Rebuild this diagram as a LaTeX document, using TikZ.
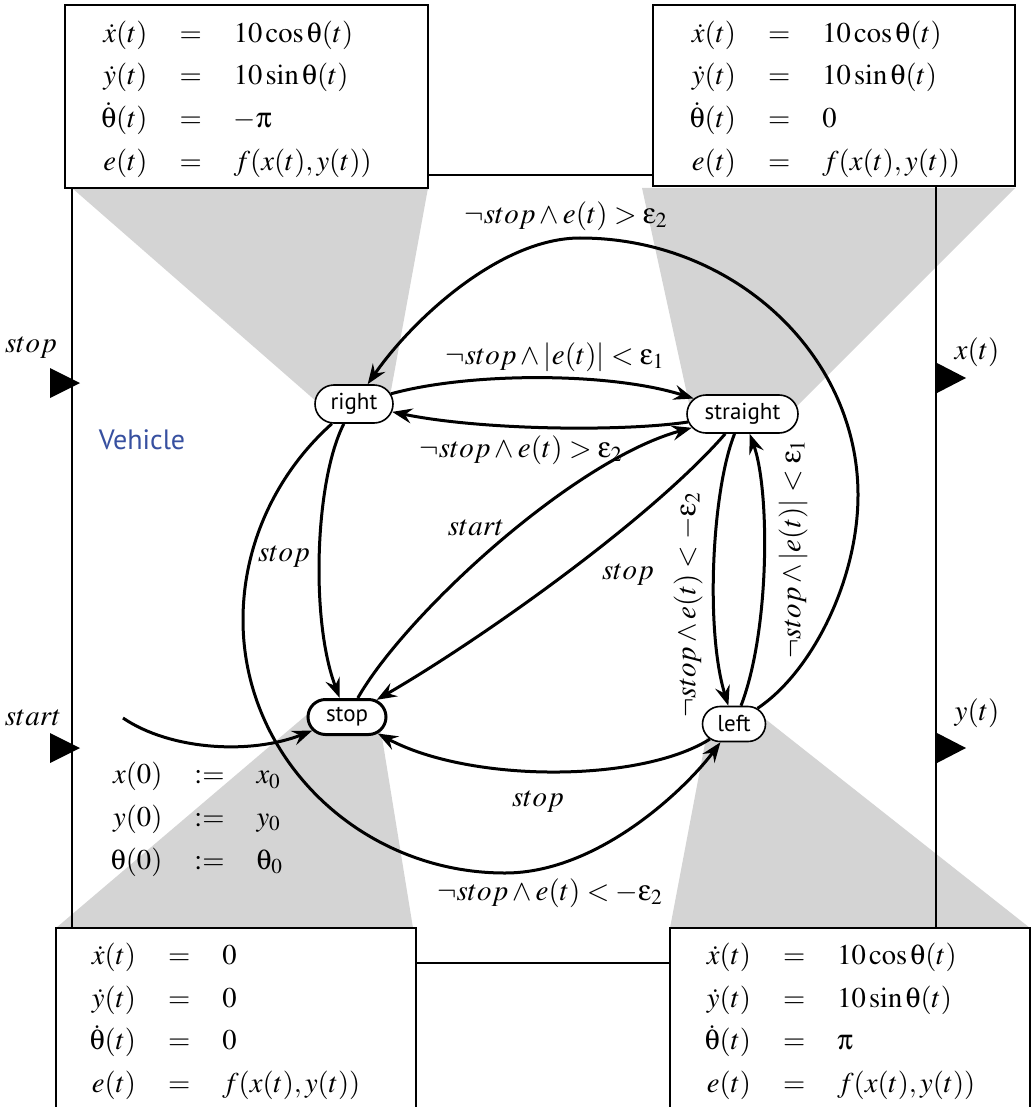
\documentclass[tikz,border=0pt]{standalone}
\usepackage{mathptmx}
\usepackage[no-math]{fontspec}
\newfontfamily\nodefont{PT Sans}
\DeclareSymbolFont{upgrk}{U}{psy}{m}{n}
\DeclareMathSymbol{\uth}{\mathord}{upgrk}{`q}
\DeclareMathSymbol{\upi}{\mathord}{upgrk}{`p}
\DeclareMathSymbol{\ueps}{\mathord}{upgrk}{`e}
\usetikzlibrary{arrows.meta,shapes.misc}
\definecolor{vblue}{RGB}{55,80,160}
\definecolor{calloutgray}{RGB}{212,212,212}
\newcommand\eqarr[1]{$\renewcommand\arraystretch{1.24}\begin{array}{@{}r@{\hspace{16pt}}c@{\hspace{16pt}}l@{}}#1\end{array}$}
\begin{document}
\begin{tikzpicture}[x=0.5pt,y=-0.5pt,
  state/.style={draw, rounded rectangle, line width=0.8pt, fill=white, inner sep=0pt,
    font=\nodefont\fontsize{11.5}{13}\selectfont},
  edge/.style={line width=1.5pt, -{Stealth[length=10pt,width=7.5pt,inset=3.5pt]}},
  lbl/.style={inner sep=0pt, font=\fontsize{14.5}{17.4}\selectfont},
  eqbox/.style={draw, line width=1pt, fill=white, inner sep=0pt},
  eqtext/.style={inner sep=0pt, font=\fontsize{14.3}{17.2}\selectfont},
  callout/.style={fill=calloutgray}]
\useasboundingbox (0,0) rectangle (1036,1107);
% shaded callouts
\path[callout] (72,188) -- (428,188) -- (390,396) -- (317,402) -- cycle;
\path[callout] (642,188) -- (1015,188) -- (795,408) -- (690,408) -- cycle;
\path[callout] (56,928) -- (413,928) -- (380,725) -- (310,712) -- cycle;
\path[callout] (670,928) -- (1030,928) -- (764,718) -- (706,738) -- cycle;
% block outline
\draw[line width=0.8pt] (72,175) rectangle (936,963);
% ports
\fill (50,368) -- (80,383) -- (50,398) -- cycle;
\fill (50,733) -- (80,748) -- (50,763) -- cycle;
\fill (937,363) -- (966,378) -- (937,393) -- cycle;
\fill (937,733) -- (966,748) -- (937,763) -- cycle;
\node[lbl] (pstop) at (31,348) {$stop$};
\node[lbl] (pstart) at (33,718) {$start$};
\node[lbl] (px) at (977,352) {$x(t)$};
\node[lbl] (py) at (977,713) {$y(t)$};
% equation boxes
\node[eqbox, minimum width=181.5pt, minimum height=91.5pt] (tlbox) at (246.5,96.5) {};
\node[eqbox, minimum width=181pt, minimum height=90.5pt] (trbox) at (834,95.5) {};
\node[eqbox, minimum width=180pt, minimum height=92pt] (blbox) at (236,1020) {};
\node[eqbox, minimum width=180pt, minimum height=92pt] (brbox) at (850,1020) {};
\node[eqtext] (tleq) at (236.5,97.5) {\eqarr{\dot x(t) & = & 10\cos\uth(t)\\ \dot y(t) & = & 10\sin\uth(t)\\ \dot\uth(t) & = & -\upi\\ e(t) & = & f(x(t),y(t))}};
\node[eqtext] (treq) at (825,97.5) {\eqarr{\dot x(t) & = & 10\cos\uth(t)\\ \dot y(t) & = & 10\sin\uth(t)\\ \dot\uth(t) & = & 0\\ e(t) & = & f(x(t),y(t))}};
\node[eqtext] (bleq) at (225,1020) {\eqarr{\dot x(t) & = & 0\\ \dot y(t) & = & 0\\ \dot\uth(t) & = & 0\\ e(t) & = & f(x(t),y(t))}};
\node[eqtext] (breq) at (840,1020) {\eqarr{\dot x(t) & = & 10\cos\uth(t)\\ \dot y(t) & = & 10\sin\uth(t)\\ \dot\uth(t) & = & \upi\\ e(t) & = & f(x(t),y(t))}};
\node[eqtext] (init) at (197,818) {\eqarr{x(0) & := & x_0\\ y(0) & := & y_0\\ \uth(0) & := & \uth_0}};
\node[font=\nodefont\fontsize{14}{16}\selectfont, text=vblue, inner sep=0pt] (veh) at (142,440) {Vehicle};
% states
\node[state, minimum width=39pt, minimum height=19pt] (right) at (354,404) {right};
\node[state, minimum width=55.5pt, minimum height=19pt] (straight) at (742.5,414) {straight};
\node[state, line width=1.5pt, minimum width=39pt, minimum height=17.5pt] (stop) at (347,717) {stop};
\node[state, minimum width=31.5pt, minimum height=17.5pt] (left) at (734,724) {left};
\coordinate (initstart) at (123,718);
% transitions
\draw[edge] (right) .. controls (470,372) and (610,372) .. (straight);
\draw[edge] (straight) .. controls (620,432) and (480,430) .. (right);
\draw[edge] (left) .. controls (812,672) and (858,580) .. (858,495) .. controls (858,354) and (733,238) .. (580,238) .. controls (500,238) and (412,320) .. (right);
\draw[edge] (right) .. controls (315,480) and (310,620) .. (stop);
\draw[edge] (right) .. controls (280,470) and (243,540) .. (243,620) .. controls (243,759) and (361,873) .. (505,873) .. controls (600,873) and (688,786) .. (left);
\draw[edge] (stop) .. controls (405,615) and (573,460) .. (straight);
\draw[edge] (straight) .. controls (650,520) and (480,640) .. (stop);
\draw[edge] (straight) .. controls (712,490) and (705,630) .. (left);
\draw[edge] (left) .. controls (770,630) and (770,490) .. (straight);
\draw[edge] (left) .. controls (640,783) and (470,783) .. (stop);
\draw[edge] (initstart) .. controls (170,750) and (250,755) .. (stop);
% labels
\node[lbl] (l1) at (555,357) {$\neg stop\wedge|e(t)|<\ueps_1$};
\node[lbl] (l2) at (521,450) {$\neg stop\wedge e(t)>\ueps_2$};
\node[lbl] (l3) at (566,216) {$\neg stop\wedge e(t)>\ueps_2$};
\node[lbl] (l4) at (284,557) {$stop$};
\node[lbl] (l5) at (550,893) {$\neg stop\wedge e(t)<-\ueps_2$};
\node[lbl] (l6) at (476,528) {$start$};
\node[lbl] (l7) at (628,575) {$stop$};
\node[lbl, rotate=90] (l8) at (688,605) {$\neg stop\wedge e(t)<-\ueps_2$};
\node[lbl, rotate=90] (l9) at (793,549) {$\neg stop\wedge|e(t)|<\ueps_1$};
\node[lbl] (l10) at (538,802) {$stop$};
\end{tikzpicture}
\end{document}
